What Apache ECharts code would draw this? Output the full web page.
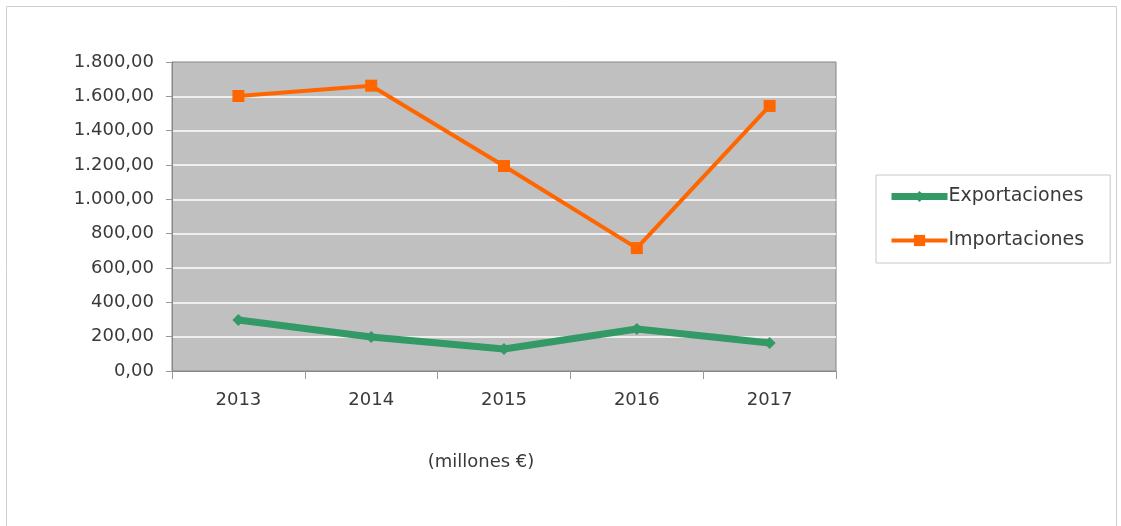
<!DOCTYPE html>
<html><head><meta charset="utf-8">
<script src="https://cdn.jsdelivr.net/npm/echarts@6/dist/echarts.min.js"></script>
<style>html,body{margin:0;padding:0;background:#fff;}#c{width:1121px;height:526px;}</style>
</head><body><div id="c"></div>
<script>
const categories = ['2013','2014','2015','2016','2017'];
const exportaciones = [297, 198, 128, 245, 163];
const importaciones = [1602, 1662, 1194, 716, 1544];
const seriesNames = ['Exportaciones','Importaciones'];
const axisNote = '(millones €)';

const font = '"DejaVu Sans", sans-serif';
function fmt(v){
  const s = Math.round(v).toString().replace(/\B(?=(\d{3})+(?!\d))/g,'.');
  return s + ',00';
}
const chart = echarts.init(document.getElementById('c'), null, {renderer:'canvas'});
chart.setOption({
  animation:false,
  backgroundColor:'#fff',
  textStyle:{fontFamily:font},
  grid:{left:172, top:62, width:664, height:309, backgroundColor:'#c0c0c0', show:true, borderWidth:1, borderColor:'#868686'},
  xAxis:{type:'category', data:categories, boundaryGap:true,
    axisLine:{lineStyle:{color:'#888', width:1}},
    axisTick:{show:true, length:8, interval:0, lineStyle:{color:'#999'}},
    axisLabel:{color:'#3a3a3a', fontSize:18, margin:20, fontFamily:font}},
  yAxis:{type:'value', min:0, max:1800, interval:200,
    axisLine:{show:true, lineStyle:{color:'#888'}},
    axisTick:{show:true, length:6, lineStyle:{color:'#999'}},
    splitLine:{showMaxLine:false, showMinLine:false, lineStyle:{color:'#fff', width:1.5}},
    axisLabel:{color:'#3a3a3a', fontSize:18, margin:18, formatter:fmt, fontFamily:font}},
  legend:{orient:'vertical', left:876, top:175,
    padding:[12,26,13,12], itemGap:25, itemWidth:56, itemHeight:14,
    borderColor:'#c8c8c8', borderWidth:1,
    textStyle:{fontSize:19, color:'#3a3a3a', fontFamily:font, padding:[0,0,0,-4]},
    data:[
      {name:seriesNames[0], lineStyle:{width:7, color:'#339966'}, itemStyle:{color:'#339966'}},
      {name:seriesNames[1], lineStyle:{width:4, color:'#ff6600'}, itemStyle:{color:'#ff6600'}}
    ]},
  graphic:[
    {type:'rect', shape:{x:6.5, y:6.5, width:1110, height:530}, style:{fill:'none', stroke:'#cfcfcf', lineWidth:1}, silent:true},
    {type:'text', x:481, y:462, style:{text:axisNote, align:'center', verticalAlign:'middle', fill:'#3a3a3a', font:'18px '+font}}
  ],
  series:[
    {name:seriesNames[0], type:'line', data:exportaciones, symbol:'diamond', symbolSize:12,
      lineStyle:{color:'#339966', width:7}, itemStyle:{color:'#339966'}},
    {name:seriesNames[1], type:'line', data:importaciones, symbol:'rect', symbolSize:12,
      lineStyle:{color:'#ff6600', width:4}, itemStyle:{color:'#ff6600'}}
  ]
});
</script></body></html>
